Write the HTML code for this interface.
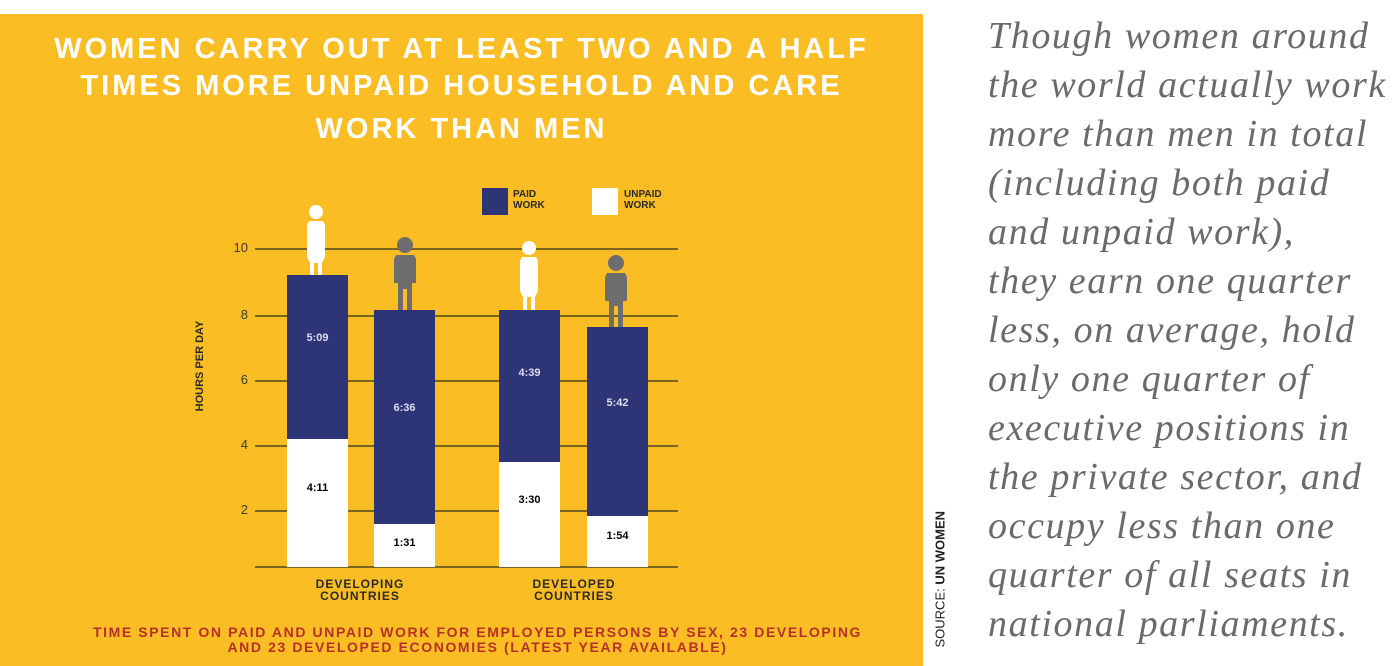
<!DOCTYPE html>
<html><head><meta charset="utf-8"><style>
body{margin:0;width:1397px;height:666px;background:#fff;position:relative;overflow:hidden;font-family:"Liberation Sans",sans-serif}
#panel{position:absolute;left:0;top:14px;width:923px;height:652px;background:#fbbd24}
.t{position:absolute;left:0;width:923px;text-align:center;color:#fff;font-weight:bold;font-size:29px;letter-spacing:3px;white-space:nowrap}
.grid{position:absolute;left:255px;width:423px;height:2px;background:#7a6520}
.yl{position:absolute;left:218px;width:30px;text-align:right;font-size:13px;color:#3a3a3a}
.bar{position:absolute;width:61px}
.paid{background:#2e3577}
.unp{background:#fff}
.v{position:absolute;width:61px;text-align:center;font-size:11px;font-weight:bold}
.cat{position:absolute;width:160px;text-align:center;font-size:12px;font-weight:bold;color:#2a2a2a;line-height:12px;letter-spacing:1px}
.r{position:absolute;left:988px;top:12px;font-family:"Liberation Serif",serif;font-style:italic;font-size:38px;letter-spacing:1.6px;color:#6a6a6a;line-height:49px;white-space:nowrap}
</style></head><body>
<div id="panel"></div>
<div class="t" style="top:33px">WOMEN CARRY OUT AT LEAST TWO AND A HALF</div>
<div class="t" style="top:70px">TIMES MORE UNPAID HOUSEHOLD AND CARE</div>
<div class="t" style="top:113px">WORK THAN MEN</div>
<div style="position:absolute;left:482px;top:188px;width:26px;height:27px;background:#2e3577"></div>
<div style="position:absolute;left:513px;top:189px;font-size:10px;font-weight:bold;color:#2a2a2a;line-height:11px">PAID<br>WORK</div>
<div style="position:absolute;left:592px;top:188px;width:26px;height:27px;background:#fff"></div>
<div style="position:absolute;left:624px;top:189px;font-size:10px;font-weight:bold;color:#2a2a2a;line-height:11px">UNPAID<br>WORK</div>
<div class="grid" style="top:248px"></div><div class="grid" style="top:315px"></div><div class="grid" style="top:380px"></div><div class="grid" style="top:445px"></div><div class="grid" style="top:510px"></div><div class="grid" style="top:566px"></div>
<div class="yl" style="top:240px">10</div><div class="yl" style="top:307px">8</div><div class="yl" style="top:372px">6</div><div class="yl" style="top:437px">4</div><div class="yl" style="top:502px">2</div>
<div style="position:absolute;left:140px;top:360px;transform:rotate(-90deg);transform-origin:center;width:120px;text-align:center;font-size:11px;font-weight:bold;color:#2a2a2a">HOURS PER DAY</div>
<div class="bar paid" style="left:287px;top:275px;height:164px"></div><div class="bar unp" style="left:287px;top:439px;height:128px"></div>
<div class="bar paid" style="left:374px;top:310px;height:214px"></div><div class="bar unp" style="left:374px;top:524px;height:43px"></div>
<div class="bar paid" style="left:499px;top:310px;height:152px"></div><div class="bar unp" style="left:499px;top:462px;height:105px"></div>
<div class="bar paid" style="left:587px;top:327px;height:189px"></div><div class="bar unp" style="left:587px;top:516px;height:51px"></div>
<div class="v" style="left:287px;top:332px;color:#dde">5:09</div><div class="v" style="left:287px;top:482px">4:11</div>
<div class="v" style="left:374px;top:402px;color:#dde">6:36</div><div class="v" style="left:374px;top:537px">1:31</div>
<div class="v" style="left:499px;top:367px;color:#dde">4:39</div><div class="v" style="left:499px;top:494px">3:30</div>
<div class="v" style="left:587px;top:397px;color:#dde">5:42</div><div class="v" style="left:587px;top:530px">1:54</div>
<svg style="position:absolute;left:0;top:0" width="923" height="666">
<g fill="#fff"><circle cx="316" cy="212" r="7"/><path d="M309 221h14l2 4v32l-3 6h-12l-3-6v-32z"/><rect x="310" y="262" width="4" height="13"/><rect x="318" y="262" width="4" height="13"/>
<circle cx="529" cy="248" r="7"/><path d="M522 257h14l2 4v30l-3 6h-12l-3-6v-30z"/><rect x="523" y="296" width="4" height="14"/><rect x="531" y="296" width="4" height="14"/></g>
<g fill="#6d6d6d"><circle cx="405" cy="245" r="8"/><path d="M396 255h18l2 4v24h-4v6h-14v-6h-4v-24z"/><rect x="398" y="286" width="5" height="24"/><rect x="407" y="286" width="5" height="24"/>
<circle cx="616" cy="263" r="8"/><path d="M607 273h18l2 4v24h-4v5h-14v-5h-4v-24z"/><rect x="609" y="303" width="5" height="24"/><rect x="618" y="303" width="5" height="24"/></g>
</svg>
<div class="cat" style="left:280px;top:578px">DEVELOPING<br>COUNTRIES</div>
<div class="cat" style="left:494px;top:578px">DEVELOPED<br>COUNTRIES</div>
<div style="position:absolute;left:0;width:955px;top:625px;text-align:center;font-size:14px;font-weight:bold;color:#b5302a;line-height:15px;letter-spacing:1.6px;white-space:nowrap">TIME SPENT ON PAID AND UNPAID WORK FOR EMPLOYED PERSONS BY SEX, 23 DEVELOPING<br>AND 23 DEVELOPED ECONOMIES (LATEST YEAR AVAILABLE)</div>
<div style="position:absolute;left:870px;top:570px;width:140px;transform:rotate(-90deg);transform-origin:center;font-size:13px;color:#222;white-space:nowrap">SOURCE: <b>UN WOMEN</b></div>
<div class="r">Though women around<br>the world actually work<br>more than men in total<br>(including both paid<br>and unpaid work),<br>they earn one quarter<br>less, on average, hold<br>only one quarter of<br>executive positions in<br>the private sector, and<br>occupy less than one<br>quarter of all seats in<br>national parliaments.</div>
</body></html>
